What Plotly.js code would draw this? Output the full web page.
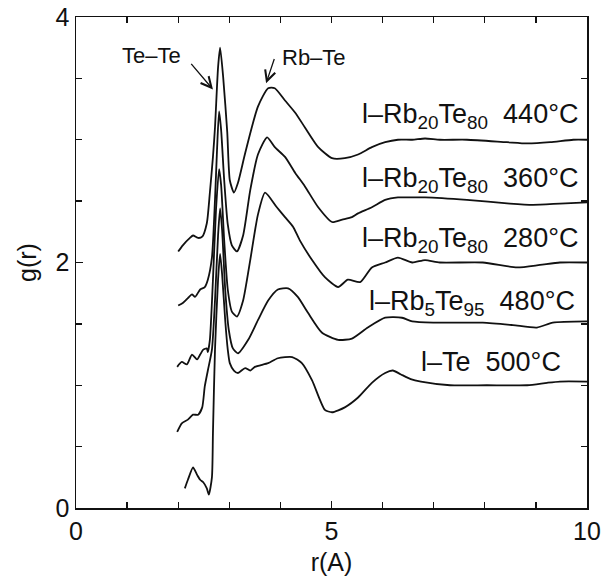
<!DOCTYPE html>
<html>
<head>
<meta charset="utf-8">
<script src="https://cdn.plot.ly/plotly-3.0.1.min.js"></script>
<style>html,body{margin:0;padding:0;background:#fff;}#chart{width:606px;height:583px;}</style>
</head>
<body>
<div id="chart"></div>
<script>
// l-Rb20Te80 440°C (offset +2.0)
var r_440 = [2.00,2.09,2.23,2.29,2.39,2.47,2.56,2.62,2.68,2.72,2.78,2.82,2.88,2.96,3.01,3.09,3.17,3.31,3.56,3.76,3.89,4.09,4.29,4.48,4.74,5.01,5.26,5.52,5.79,6.05,6.30,6.58,6.83,7.12,7.65,8.43,8.83,9.28,9.73,10.0];
var g_440 = [2.09,2.14,2.20,2.22,2.20,2.21,2.32,2.57,2.86,3.10,3.59,3.75,3.51,3.06,2.67,2.57,2.65,2.89,3.27,3.42,3.42,3.32,3.22,3.10,2.94,2.85,2.85,2.88,2.94,2.98,3.00,3.00,3.01,3.00,3.00,2.98,2.97,2.98,3.00,3.00];
// l-Rb20Te80 360°C (offset +1.5)
var r_360 = [2.00,2.09,2.19,2.27,2.33,2.43,2.52,2.58,2.66,2.72,2.76,2.80,2.84,2.90,2.97,3.05,3.15,3.27,3.41,3.56,3.74,3.89,4.09,4.29,4.48,4.74,5.01,5.21,5.40,5.52,5.79,6.05,6.30,6.58,6.83,7.65,8.49,8.94,9.47,10.0];
var g_360 = [1.65,1.67,1.71,1.74,1.72,1.78,1.80,1.86,2.04,2.51,2.92,3.23,3.08,2.67,2.31,2.14,2.09,2.22,2.59,2.88,3.02,2.94,2.86,2.73,2.62,2.45,2.33,2.35,2.37,2.40,2.45,2.51,2.53,2.53,2.53,2.51,2.48,2.47,2.48,2.49];
// l-Rb20Te80 280°C (offset +1.0)
var r_280 = [1.98,2.07,2.17,2.27,2.37,2.43,2.49,2.56,2.58,2.62,2.68,2.74,2.80,2.84,2.90,2.97,3.05,3.15,3.27,3.41,3.56,3.70,3.93,4.09,4.25,4.38,4.62,4.87,5.13,5.32,5.56,5.79,6.05,6.30,6.58,6.83,7.12,7.96,8.63,9.08,9.47,10.0];
var g_280 = [1.15,1.19,1.17,1.25,1.21,1.25,1.29,1.30,1.27,1.37,1.86,2.43,2.76,2.63,2.18,1.78,1.60,1.56,1.69,2.02,2.39,2.57,2.45,2.37,2.29,2.18,2.02,1.88,1.80,1.86,1.84,1.96,2.00,2.04,2.00,2.02,2.00,2.00,1.96,1.98,2.00,2.00];
// l-Rb5Te95 480°C (offset +0.5)
var r_480 = [1.98,2.07,2.19,2.29,2.39,2.47,2.52,2.58,2.66,2.72,2.78,2.82,2.86,2.92,2.99,3.07,3.17,3.37,3.56,3.76,3.95,4.15,4.34,4.54,4.81,5.13,5.40,5.71,6.05,6.38,6.58,6.99,7.96,8.55,9.02,9.33,10.0];
var g_480 = [0.62,0.69,0.72,0.76,0.76,0.82,0.99,1.12,1.29,1.69,2.22,2.44,2.26,1.78,1.45,1.30,1.26,1.37,1.53,1.69,1.78,1.79,1.72,1.59,1.43,1.37,1.38,1.47,1.55,1.55,1.52,1.51,1.51,1.49,1.47,1.51,1.52];
// l-Te 500°C (no offset)
var r_500 = [2.13,2.19,2.29,2.37,2.43,2.49,2.56,2.60,2.66,2.68,2.72,2.78,2.82,2.86,2.92,2.97,3.01,3.09,3.17,3.31,3.41,3.50,3.76,3.95,4.23,4.42,4.62,4.87,5.01,5.26,5.52,5.79,6.05,6.20,6.35,6.55,6.75,7.32,8.04,8.83,9.22,9.47,10.0];
var g_500 = [0.16,0.23,0.33,0.27,0.23,0.21,0.16,0.11,0.25,0.61,1.29,1.86,2.07,1.90,1.53,1.29,1.18,1.12,1.10,1.14,1.12,1.15,1.18,1.22,1.23,1.18,1.04,0.80,0.78,0.82,0.90,1.02,1.10,1.12,1.09,1.05,1.03,1.00,1.00,1.00,1.02,1.03,1.03];

// tick positions
var xTicksMajor = [0,5,10];
var xTicksMinor = [1,2,3,4,6,7,8,9];
var xTicksAll = [0,1,2,3,4,5,6,7,8,9,10];
var yTicksMajor = [0,2,4];
var yTicksMinor = [0.5,1,1.5,2.5,3,3.5];
var yTicksAll = [0,0.5,1,1.5,2,2.5,3,3.5,4];

var series = [[r_440,g_440],[r_360,g_360],[r_280,g_280],[r_480,g_480],[r_500,g_500]];
var traces = series.map(function(s){
  return {x:s[0], y:s[1], type:'scatter', mode:'lines',
          line:{color:'#111', width:1.8, shape:'spline', smoothing:0.6},
          showlegend:false, hoverinfo:'skip'};
});
// empty trace to create the mirrored top/right tick axes
traces.push({x:[], y:[], xaxis:'x2', yaxis:'y2', type:'scatter', mode:'lines', showlegend:false, hoverinfo:'skip'});

var labelFont = {family:'Liberation Sans, Arial, sans-serif', size:27, color:'#111'};
var smallFont = {family:'Liberation Sans, Arial, sans-serif', size:22, color:'#111'};
var sp = '\u00A0\u00A0';
function lab(text, x, y){
  return {x:x, y:y, xref:'x', yref:'y', text:text, showarrow:false, xanchor:'right', yanchor:'middle', font:labelFont};
}
function arrow(x, y, ax, ay){
  return {x:x, y:y, ax:ax, ay:ay, xref:'x', yref:'y', axref:'x', ayref:'y', text:'', showarrow:true,
          arrowhead:5, arrowsize:1.6, arrowwidth:1.3, arrowcolor:'#111'};
}
var annotations = [
  lab('l–Rb<sub>20</sub>Te<sub>80</sub>'+sp+'440°C', 9.86, 3.19),
  lab('l–Rb<sub>20</sub>Te<sub>80</sub>'+sp+'360°C', 9.86, 2.67),
  lab('l–Rb<sub>20</sub>Te<sub>80</sub>'+sp+'280°C', 9.86, 2.18),
  lab('l–Rb<sub>5</sub>Te<sub>95</sub>'+sp+'480°C', 9.80, 1.67),
  lab('l–Te'+sp+'500°C', 9.53, 1.19),
  {x:1.47, y:3.69, xref:'x', yref:'y', text:'Te–Te', showarrow:false, font:smallFont},
  {x:4.66, y:3.67, xref:'x', yref:'y', text:'Rb–Te', showarrow:false, font:smallFont},
  arrow(2.68, 3.41, 2.23, 3.63),
  arrow(3.72, 3.46, 3.89, 3.67)
];

var axisFont = {family:'Liberation Sans, Arial, sans-serif', size:25, color:'#111'};
var layout = {
  width:606, height:583,
  margin:{l:76, r:19, t:17, b:75},
  paper_bgcolor:'#fff', plot_bgcolor:'#fff',
  xaxis:{range:[0,10], tickvals:xTicksMajor, ticktext:xTicksMajor.map(String), ticks:'inside', ticklen:7, tickwidth:1.3, tickcolor:'#111',
         minor:{tickvals:xTicksMinor, ticks:'inside', ticklen:6, tickwidth:1.3, tickcolor:'#111'},
         showline:true, linecolor:'#111', linewidth:1.5, mirror:true, showgrid:false, zeroline:false,
         tickfont:axisFont, title:{text:'r(A)', font:axisFont, standoff:10}},
  yaxis:{range:[0,4], tickvals:yTicksMajor, ticktext:yTicksMajor.map(String), ticks:'inside', ticklen:7, tickwidth:1.3, tickcolor:'#111',
         minor:{tickvals:yTicksMinor, ticks:'inside', ticklen:6, tickwidth:1.3, tickcolor:'#111'},
         showline:true, linecolor:'#111', linewidth:1.5, mirror:true, showgrid:false, zeroline:false,
         tickfont:axisFont, title:{text:'g(r)', font:axisFont, standoff:12}},
  xaxis2:{overlaying:'x', side:'top', anchor:'y2', range:[0,10], tickvals:xTicksAll, ticks:'inside', ticklen:6, tickwidth:1.3, tickcolor:'#111',
          showticklabels:false, showline:false, showgrid:false, zeroline:false},
  yaxis2:{overlaying:'y', side:'right', anchor:'x2', range:[0,4], tickvals:yTicksAll, ticks:'inside', ticklen:6, tickwidth:1.3, tickcolor:'#111',
          showticklabels:false, showline:false, showgrid:false, zeroline:false},
  annotations:annotations
};
Plotly.newPlot('chart', traces, layout, {staticPlot:true, displayModeBar:false});
</script>
</body>
</html>
